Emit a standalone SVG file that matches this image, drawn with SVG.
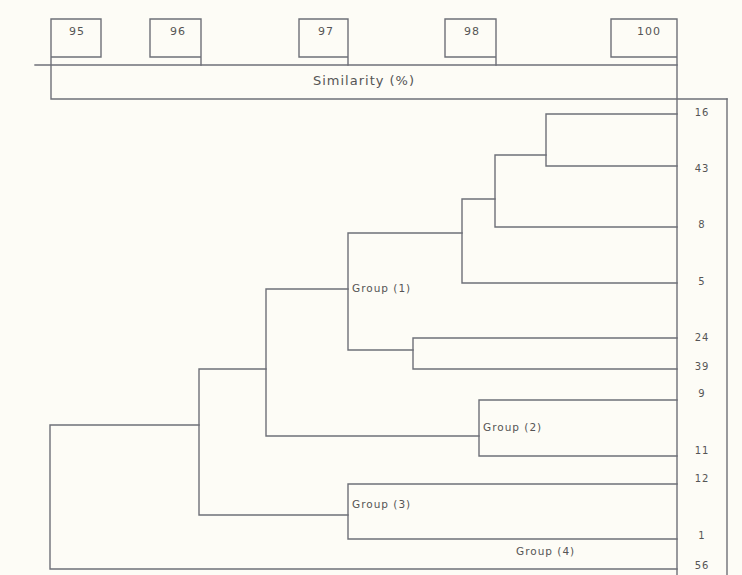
<svg xmlns="http://www.w3.org/2000/svg" width="742" height="575" viewBox="0 0 742 575">
<style>
.ln{fill:none;stroke:#6e7078;stroke-width:1.4;stroke-linecap:square}
.t{font-family:"DejaVu Sans",sans-serif;fill:#555;letter-spacing:1px}
.ax{font-size:11px;text-anchor:middle}
.lf{font-size:10px;text-anchor:middle}
.gp{font-size:10.5px}
</style>
<rect x="0" y="0" width="742" height="575" fill="#fdfcf6"/>
<g id="axis">
<path class="ln" d="M35,65 H677"/>
<path class="ln" d="M51,19 H101 V57 H51 Z M51,57 V99 H727"/>
<path class="ln" d="M150,19 H201 V65 M150,19 V57 H201"/>
<path class="ln" d="M299,19 H348 V65 M299,19 V57 H348"/>
<path class="ln" d="M445,19 H496 V65 M445,19 V57 H496"/>
<path class="ln" d="M611,19 H677 V575 M611,19 V57 H677"/>
<path class="ln" d="M727,99 V575"/>
<text class="t ax" x="77" y="35">95</text>
<text class="t ax" x="178" y="35">96</text>
<text class="t ax" x="326" y="35">97</text>
<text class="t ax" x="472" y="35">98</text>
<text class="t ax" x="649" y="35">100</text>
<text class="t" x="364" y="85" font-size="13" text-anchor="middle">Similarity (%)</text>
</g>
<g id="connectors">
<path class="ln" d="M677,114 H546 V166 H677"/>
<path class="ln" d="M546,155 H495 V227 H677"/>
<path class="ln" d="M495,199 H462 V283 H677"/>
<path class="ln" d="M462,233 H348 V350 H413"/>
<path class="ln" d="M677,338 H413 V369 H677"/>
<path class="ln" d="M348,289 H266 V436 H479"/>
<path class="ln" d="M677,400 H479 V456 H677"/>
<path class="ln" d="M266,369 H199 V515 H348"/>
<path class="ln" d="M677,484 H348 V539 H677"/>
<path class="ln" d="M199,425 H50 V569 H677"/>
</g>
<g id="leaf-16"><text class="t lf" x="702" y="116">16</text></g>
<g id="leaf-43"><text class="t lf" x="702" y="172">43</text></g>
<g id="leaf-8"><text class="t lf" x="702" y="228">8</text></g>
<g id="leaf-5"><text class="t lf" x="702" y="285">5</text></g>
<g id="leaf-24"><text class="t lf" x="702" y="341">24</text></g>
<g id="leaf-39"><text class="t lf" x="702" y="370">39</text></g>
<g id="leaf-9"><text class="t lf" x="702" y="397">9</text></g>
<g id="leaf-11"><text class="t lf" x="702" y="454">11</text></g>
<g id="leaf-12"><text class="t lf" x="702" y="482">12</text></g>
<g id="leaf-1"><text class="t lf" x="702" y="539">1</text></g>
<g id="leaf-56"><text class="t lf" x="702" y="569">56</text></g>
<g id="group-1"><text class="t gp" x="352" y="292">Group (1)</text></g>
<g id="group-2"><text class="t gp" x="483" y="431">Group (2)</text></g>
<g id="group-3"><text class="t gp" x="352" y="508">Group (3)</text></g>
<g id="group-4"><text class="t gp" x="516" y="555">Group (4)</text></g>
</svg>
